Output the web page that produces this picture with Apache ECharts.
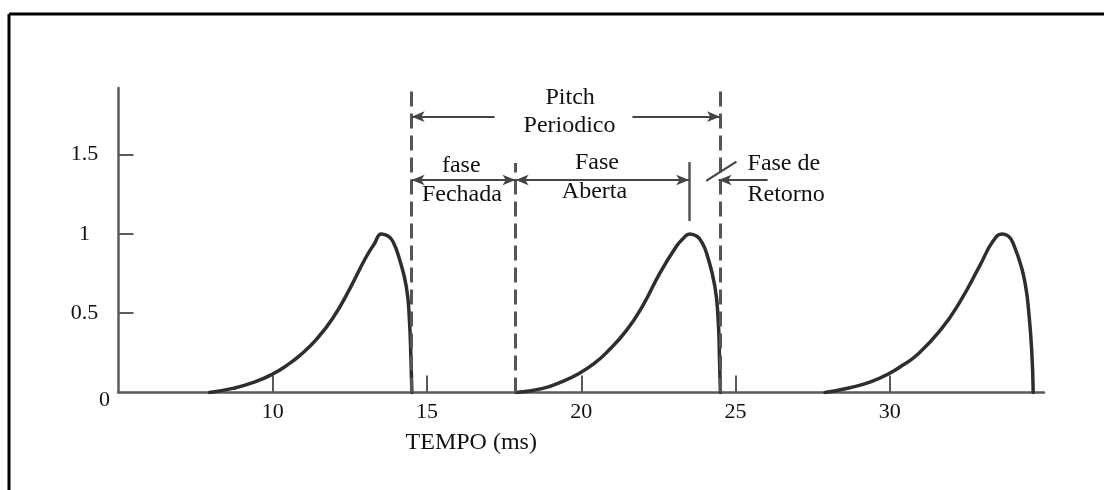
<!DOCTYPE html>
<html><head><meta charset="utf-8">
<script src="https://cdn.jsdelivr.net/npm/echarts@6/dist/echarts.min.js"></script>
<style>html,body{margin:0;padding:0;background:#fff}#c{width:1104px;height:490px}</style>
</head><body><div id="c"></div>
<script>
// ---- data ----
const xTickValues = [10, 15, 20, 25, 30];
const yTickValues = [0, 0.5, 1, 1.5];
const xAxisName = 'TEMPO (ms)';

const pulse1X = [7.95, 8.7, 9.4, 10.0, 10.5, 10.9, 11.4, 11.95, 12.5, 13.0, 13.3, 13.52, 13.75, 13.9, 14.1, 14.33, 14.43, 14.48, 14.51];
const pulse1Y = [0.0, 0.026, 0.065, 0.117, 0.177, 0.237, 0.332, 0.47, 0.655, 0.845, 0.94, 1.0, 0.985, 0.95, 0.846, 0.667, 0.457, 0.205, 0.0];

const pulse2X = [17.89, 18.76, 19.4, 19.93, 20.4, 20.81, 21.46, 22.0, 22.54, 23.08, 23.3, 23.52, 23.75, 23.9, 24.06, 24.33, 24.44, 24.48, 24.51];
const pulse2Y = [0.0, 0.026, 0.07, 0.12, 0.18, 0.25, 0.39, 0.55, 0.75, 0.92, 0.97, 1.0, 0.985, 0.95, 0.88, 0.67, 0.45, 0.22, 0.0];

const pulse3X = [27.9, 28.71, 29.4, 29.98, 30.4, 30.87, 31.63, 32.27, 32.92, 33.35, 33.65, 33.85, 34.0, 34.27, 34.42, 34.49, 34.6, 34.65];
const pulse3Y = [0.0, 0.03, 0.068, 0.12, 0.17, 0.235, 0.39, 0.57, 0.80, 0.955, 1.0, 0.985, 0.94, 0.79, 0.65, 0.54, 0.27, 0.0];

// annotation geometry (data units)
const dashedLineX = [14.5, 17.87, 24.5];
const dashedLineTop = [1.918, 1.447, 1.918];
const solidMarkX = 23.5, solidMarkTop = 1.453, solidMarkBottom = 1.081;
const pitchArrowY = 1.739, phaseArrowY = 1.34;

const annotations = [
  {text: 'Pitch', x: 19.64, y: 1.86, align: 'center'},
  {text: 'Periodico', x: 19.62, y: 1.68, align: 'center'},
  {text: 'fase', x: 16.11, y: 1.43, align: 'center'},
  {text: 'Fechada', x: 16.13, y: 1.245, align: 'center'},
  {text: 'Fase', x: 20.51, y: 1.446, align: 'center'},
  {text: 'Aberta', x: 20.43, y: 1.263, align: 'center'},
  {text: 'Fase de', x: 25.39, y: 1.44, align: 'left'},
  {text: 'Retorno', x: 25.39, y: 1.245, align: 'left'}
];

// ---- chart ----
const serif = '"Liberation Serif", "Times New Roman", serif';
const axisColor = '#5a5a5a';
const curveColor = '#2e2e2e';
const zip = (xs, ys) => xs.map((x, i) => [x, ys[i]]);

const dashedStyle = {type: [15, 7], width: 3, color: '#555'};
const arrowStyle = {type: 'solid', width: 2.2, color: '#444'};

const markLineData = [];
dashedLineX.forEach((x, i) => {
  markLineData.push([{coord: [x, 0], lineStyle: dashedStyle}, {coord: [x, dashedLineTop[i]]}]);
});
markLineData.push([{coord: [solidMarkX, solidMarkBottom], lineStyle: {type: 'solid', width: 2.5, color: '#555'}}, {coord: [solidMarkX, solidMarkTop]}]);
// arrows
markLineData.push([{coord: [14.5, pitchArrowY], symbol: 'arrow', lineStyle: arrowStyle}, {coord: [17.19, pitchArrowY], symbol: 'none'}]);
markLineData.push([{coord: [21.66, pitchArrowY], symbol: 'none', lineStyle: arrowStyle}, {coord: [24.5, pitchArrowY], symbol: 'arrow'}]);
markLineData.push([{coord: [14.5, phaseArrowY], symbol: 'arrow', lineStyle: arrowStyle}, {coord: [17.87, phaseArrowY], symbol: 'arrow'}]);
markLineData.push([{coord: [17.87, phaseArrowY], symbol: 'arrow', lineStyle: arrowStyle}, {coord: [23.5, phaseArrowY], symbol: 'arrow'}]);
markLineData.push([{coord: [26.04, phaseArrowY], symbol: 'none', lineStyle: arrowStyle}, {coord: [24.45, phaseArrowY], symbol: 'arrow'}]);
markLineData.push([{coord: [24.05, 1.334], symbol: 'none', lineStyle: {type: 'solid', width: 2.2, color: '#444'}}, {coord: [25.03, 1.456], symbol: 'none'}]);

const markPointData = annotations.map(a => ({
  coord: [a.x, a.y], value: a.text,
  label: {align: a.align}
}));

const curveSeries = (data, extra) => Object.assign({
  type: 'line', data: data, showSymbol: false, symbol: 'none',
  smooth: 0.5,
  lineStyle: {color: curveColor, width: 3.5, join: 'round', cap: 'round'},
  silent: true, animation: false, z: 3
}, extra || {});

const option = {
  backgroundColor: '#ffffff',
  animation: false,
  grid: {left: 118.5, right: 60, top: 88, bottom: 97.5, containLabel: false},
  xAxis: {
    type: 'value', min: 5, max: 35, interval: 5,
    name: xAxisName, nameLocation: 'middle', nameGap: 38,
    nameTextStyle: {fontFamily: serif, fontSize: 24, color: '#111', padding: [0, 220, 0, 0]},
    axisLine: {show: true, onZero: false, lineStyle: {color: axisColor, width: 2.5}},
    axisTick: {show: true, inside: true, length: 17, customValues: xTickValues, lineStyle: {color: axisColor, width: 2}},
    axisLabel: {show: true, customValues: xTickValues, margin: 9, fontFamily: serif, fontSize: 22, color: '#111'},
    splitLine: {show: false}
  },
  yAxis: {
    type: 'value', min: 0, max: 1.92, interval: 0.5,
    axisLine: {show: true, onZero: false, lineStyle: {color: axisColor, width: 2.5}},
    axisTick: {show: true, inside: true, length: 15, customValues: [0.5, 1, 1.5], lineStyle: {color: axisColor, width: 2}},
    axisLabel: {
      show: true, customValues: yTickValues, margin: 34, align: 'center',
      fontFamily: serif, fontSize: 22, color: '#111',
      formatter: v => v === 0 ? '{z|0}' : String(v),
      rich: {z: {fontFamily: serif, fontSize: 22, color: '#111', padding: [16, 0, 0, 40]}}
    },
    splitLine: {show: false}
  },
  series: [
    curveSeries(zip(pulse1X, pulse1Y), {
      markLine: {
        silent: true, animation: false, symbol: 'none', symbolSize: [8, 13],
        label: {show: false}, emphasis: {disabled: true},
        data: markLineData
      },
      markPoint: {
        silent: true, animation: false, symbol: 'circle', symbolSize: 1,
        itemStyle: {color: 'rgba(0,0,0,0)'},
        label: {show: true, position: 'inside', formatter: p => p.value, fontFamily: serif, fontSize: 24, color: '#111'},
        data: markPointData
      }
    }),
    curveSeries(zip(pulse2X, pulse2Y)),
    curveSeries(zip(pulse3X, pulse3Y))
  ],
  graphic: [
    {type: 'line', shape: {x1: 9, y1: 14, x2: 1104, y2: 14}, style: {stroke: '#000', lineWidth: 3}, silent: true},
    {type: 'line', shape: {x1: 9, y1: 14, x2: 9, y2: 490}, style: {stroke: '#000', lineWidth: 3}, silent: true}
  ]
};
const chart = echarts.init(document.getElementById('c'), null, {renderer: 'canvas'});
chart.setOption(option);
</script>
</body></html>
